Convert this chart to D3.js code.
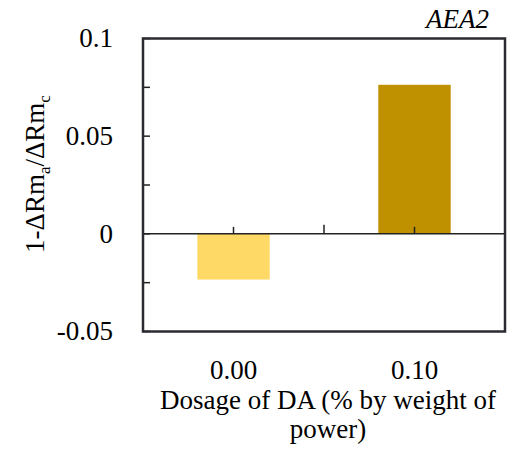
<!DOCTYPE html>
<html>
<head>
<meta charset="utf-8">
<script src="https://cdn.jsdelivr.net/npm/d3@7"></script>
</head>
<body style="margin:0">
<script>
var categories = ["0.00", "0.10"];
var values = [-0.0234, 0.0763];
var barColors = ["#FFD966", "#BF9000"];
var yTicks = [-0.05, 0, 0.05, 0.1];
var yMinorTicks = [-0.025, 0.025, 0.075];

var margin = {top: 38.5, right: 24, bottom: 126.5, left: 143},
    width = 529,
    height = 458;
var fs = 27;

var svg = d3.select("body")
    .append("svg")
    .attr("width", width)
    .attr("height", height);

var xscale = d3.scaleBand()
    .domain(categories)
    .range([margin.left, width - margin.right])
    .padding(0);

var yscale = d3.scaleLinear()
    .domain([-0.05, 0.1])
    .range([height - margin.bottom, margin.top]);

var step = xscale.step();

// bars
svg.selectAll(".bar")
    .data(values)
    .enter()
    .append("rect")
    .attr("x", (d, i) => xscale(categories[i]) + step * 0.3)
    .attr("width", step * 0.4)
    .attr("y", d => yscale(Math.max(0, d)))
    .attr("height", d => Math.abs(yscale(d) - yscale(0)))
    .attr("fill", (d, i) => barColors[i]);

// zero line
svg.append("line")
    .attr("x1", margin.left)
    .attr("x2", width - margin.right)
    .attr("y1", yscale(0))
    .attr("y2", yscale(0))
    .attr("stroke", "#222")
    .attr("stroke-width", 1.5);

// upward ticks on zero line: category centres and boundaries
var xTickPos = categories.map(d => [xscale(d) + step / 2, 7])
    .concat([[xscale(categories[1]), 9], [width - margin.right, 9]]);
svg.selectAll(".xtick")
    .data(xTickPos)
    .enter()
    .append("line")
    .attr("x1", d => d[0])
    .attr("x2", d => d[0])
    .attr("y1", yscale(0))
    .attr("y2", d => yscale(0) - d[1])
    .attr("stroke", "#222")
    .attr("stroke-width", 1.5);

// y ticks pointing inward
svg.selectAll(".ytick")
    .data(yTicks.concat(yMinorTicks))
    .enter()
    .append("line")
    .attr("x1", margin.left)
    .attr("x2", margin.left + 7)
    .attr("y1", d => yscale(d))
    .attr("y2", d => yscale(d))
    .attr("stroke", "#222")
    .attr("stroke-width", 1.5);

// frame
svg.append("rect")
    .attr("x", margin.left)
    .attr("y", margin.top)
    .attr("width", width - margin.left - margin.right)
    .attr("height", height - margin.top - margin.bottom)
    .attr("fill", "none")
    .attr("stroke", "#2a2a33")
    .attr("stroke-width", 2.5);

// y tick labels
svg.selectAll(".ylab")
    .data(yTicks)
    .enter()
    .append("text")
    .attr("x", margin.left - 30)
    .attr("y", d => yscale(d))
    .attr("dy", "0.33em")
    .attr("text-anchor", "end")
    .attr("font-size", fs)
    .style("font-family", d => `"Liberation Serif"`)
    .text(d => d === 0 ? "0" : String(d));

// x tick labels
svg.selectAll(".xlab")
    .data(categories)
    .enter()
    .append("text")
    .attr("x", d => xscale(d) + step / 2)
    .attr("y", 379)
    .attr("text-anchor", "middle")
    .attr("font-size", fs)
    .style("font-family", d => `"Liberation Serif"`)
    .text(d => d);

// x axis title
svg.selectAll(".xtitle")
    .data(["Dosage of DA (% by weight of", "power)"])
    .enter()
    .append("text")
    .attr("x", 328)
    .attr("y", (d, i) => 409 + i * 29)
    .attr("text-anchor", "middle")
    .attr("font-size", fs)
    .style("font-family", d => `"Liberation Serif"`)
    .text(d => d);

// y axis title
var yt = svg.append("text")
    .attr("transform", "translate(44,174) rotate(-90)")
    .attr("text-anchor", "middle")
    .attr("font-size", fs)
    .style("font-family", `"Liberation Serif"`);
yt.append("tspan").text("1-\u0394Rm");
yt.append("tspan").attr("font-size", 17).attr("dy", 6).text("a");
yt.append("tspan").attr("dy", -6).text("/\u0394Rm");
yt.append("tspan").attr("font-size", 17).attr("dy", 6).text("c");

// panel label
svg.append("text")
    .attr("x", 489)
    .attr("y", 28)
    .attr("text-anchor", "end")
    .attr("font-size", fs)
    .attr("font-style", "italic")
    .style("font-family", `"Liberation Serif"`)
    .text("AEA2");
</script>
</body>
</html>
